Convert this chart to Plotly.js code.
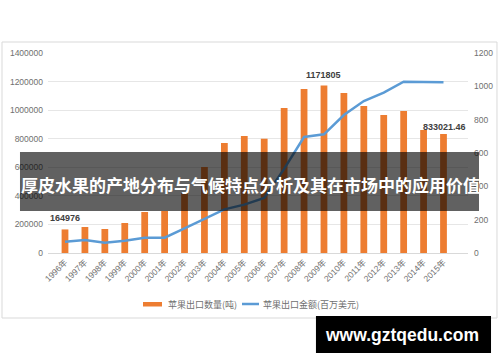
<!DOCTYPE html>
<html>
<head>
<meta charset="utf-8">
<script src="https://cdn.plot.ly/plotly-3.0.1.min.js"></script>
<style>html,body{margin:0;padding:0;background:#fff;}#chart{width:500px;height:362px;}</style>
</head>
<body>
<div id="chart"></div>
<script>
const years = ['1996年','1997年','1998年','1999年','2000年','2001年','2002年','2003年','2004年','2005年','2006年','2007年','2008年','2009年','2010年','2011年','2012年','2013年','2014年','2015年'];
const exportQty = [164976, 182000, 168000, 210000, 287000, 294000, 420000, 602000, 770000, 819000, 800000, 1015000, 1148000, 1171805, 1120000, 1029000, 966000, 994000, 861000, 833021.46];
const exportValue = [68, 78, 62, 74, 92, 92, 148, 205, 262, 290, 330, 505, 696, 712, 828, 912, 962, 1028, 1028, 1024];
const qtyLabels = ['164976','','','','','','','','','','','','','1171805','','','','','','833021.46'];
const seriesNames = ['苹果出口数量(吨)', '苹果出口金额(百万美元)'];
const seriesColors = ['#ED7D31', '#5B9BD5'];
const bannerTitle = '厚皮水果的产地分布与气候特点分析及其在市场中的应用价值';
const watermark = 'www.gztqedu.com';

const baseFont = 'Liberation Sans, Arial, Noto Sans CJK SC, sans-serif';
const cjkFont = 'Noto Sans CJK SC, sans-serif';

const traces = [
  {
    type: 'bar', name: seriesNames[0], x: years, y: exportQty,
    marker: {color: seriesColors[0]}, width: 0.34, yaxis: 'y', hoverinfo: 'none'
  },
  {
    type: 'scatter', mode: 'lines', name: seriesNames[1], x: years, y: exportValue,
    line: {color: seriesColors[1], width: 2.5}, yaxis: 'y2', hoverinfo: 'none'
  }
];

const annotations = [];
qtyLabels.forEach((t, i) => {
  if (!t) return;
  annotations.push({
    x: years[i], y: exportQty[i], xref: 'x', yref: 'y', text: t, showarrow: false,
    yanchor: 'bottom', yshift: i === 19 ? 0 : 4, xshift: i === 19 ? 1 : 0,
    font: {family: baseFont, size: 9, color: '#404040', weight: 'bold'}
  });
});
annotations.push({
  x: 0.483, y: 0.345, xref: 'paper', yref: 'paper', text: bannerTitle, showarrow: false,
  xanchor: 'center', yanchor: 'middle',
  font: {family: cjkFont, size: 17, color: '#ffffff', weight: 'bold'}
});
annotations.push({
  x: 0.844, y: -0.41, xref: 'paper', yref: 'paper', text: watermark, showarrow: false,
  xanchor: 'center', yanchor: 'middle',
  font: {family: 'Liberation Sans, Arial, sans-serif', size: 17.5, color: '#ffffff', weight: 'bold'}
});
// legend texts
annotations.push({
  x: 0.281, y: -0.255, xref: 'paper', yref: 'paper', text: seriesNames[0], showarrow: false,
  xanchor: 'left', yanchor: 'middle', font: {family: cjkFont, size: 9, color: '#6f6f6f'}
});
annotations.push({
  x: 0.507, y: -0.255, xref: 'paper', yref: 'paper', text: seriesNames[1], showarrow: false,
  xanchor: 'left', yanchor: 'middle', font: {family: cjkFont, size: 9, color: '#6f6f6f'}
});

const shapes = [
  {type: 'rect', xref: 'paper', yref: 'paper', x0: -0.1095, x1: 1.069, y0: -0.325, y1: 1.055,
   line: {color: '#d9d9d9', width: 1}, fillcolor: 'rgba(0,0,0,0)', layer: 'below'},
  // legend swatches
  {type: 'rect', xref: 'paper', yref: 'paper', x0: 0.2262, x1: 0.2714, y0: -0.2675, y1: -0.245,
   line: {width: 0}, fillcolor: seriesColors[0], layer: 'above'},
  {type: 'line', xref: 'paper', yref: 'paper', x0: 0.4619, x1: 0.5024, y0: -0.255, y1: -0.255,
   line: {color: seriesColors[1], width: 2.5}, layer: 'above'},
  // banner and watermark
  {type: 'rect', xref: 'paper', yref: 'paper', x0: -0.0667, x1: 1.0262, y0: 0.21, y1: 0.505,
   line: {width: 0}, fillcolor: 'rgba(0,0,0,0.62)', layer: 'above'},
  {type: 'rect', xref: 'paper', yref: 'paper', x0: 0.638, x1: 1.0548, y0: -0.5, y1: -0.315,
   line: {width: 0}, fillcolor: '#000000', layer: 'above'}
];

const layout = {
  width: 500, height: 362,
  margin: {l: 48, r: 32, t: 53, b: 109},
  paper_bgcolor: '#ffffff', plot_bgcolor: '#ffffff',
  font: {family: baseFont, size: 8.5, color: '#6f6f6f'},
  showlegend: false,
  bargap: 0.66,
  xaxis: {
    type: 'category', tickangle: -45, showgrid: false, showline: true, linecolor: '#d9d9d9',
    ticks: '', tickfont: {family: baseFont, size: 8.5, color: '#6f6f6f'}, automargin: false
  },
  yaxis: {
    range: [0, 1400000], dtick: 200000, tickformat: 'd', showgrid: true, gridcolor: '#e6e6e6',
    zeroline: false, showline: false, ticks: '', ticklabelstandoff: 4,
    tickfont: {family: baseFont, size: 8.5, color: '#6f6f6f'}, automargin: false
  },
  yaxis2: {
    range: [0, 1200], dtick: 200, overlaying: 'y', side: 'right', showgrid: false,
    zeroline: false, showline: false, ticks: '', ticklabelstandoff: 5,
    tickfont: {family: baseFont, size: 8.5, color: '#6f6f6f'}, automargin: false
  },
  shapes: shapes,
  annotations: annotations
};

Plotly.newPlot('chart', traces, layout, {displayModeBar: false, staticPlot: true});
</script>
</body>
</html>
